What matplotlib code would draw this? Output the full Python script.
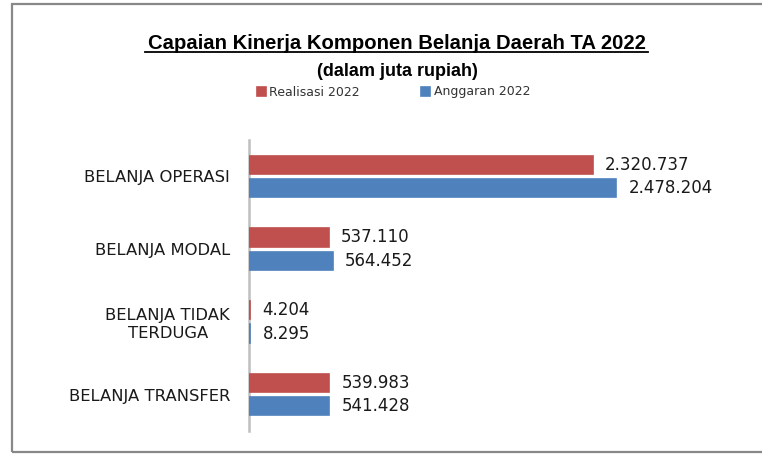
import numpy as np
import matplotlib
matplotlib.use("Agg")
import matplotlib.pyplot as plt
from matplotlib.patches import Rectangle
from matplotlib.lines import Line2D


# Data (juta rupiah)
categories = ["BELANJA OPERASI", "BELANJA MODAL", "BELANJA TIDAK\nTERDUGA", "BELANJA TRANSFER"]
realisasi = [2320737, 537110, 4204, 539983]
anggaran = [2478204, 564452, 8295, 541428]
series_names = ["Realisasi 2022", "Anggaran 2022"]

RED = "#C0504D"
BLUE = "#4F81BD"


def fmt(v):
    return f"{v:,}".replace(",", ".")


def main():
    fig = plt.figure(figsize=(7.62, 4.54), dpi=100)
    ax = fig.add_axes([249 / 762, 1 - 431 / 454, 491 / 762, 291 / 454])

    y = np.arange(len(categories))
    h = 0.25
    off = 0.16
    b1 = ax.barh(y - off, realisasi, height=h, color=RED, edgecolor=RED, lw=1.2,
                 label=series_names[0], zorder=3)
    b2 = ax.barh(y + off, anggaran, height=h, color=BLUE, edgecolor=BLUE, lw=1.2,
                 label=series_names[1], zorder=3)

    for bars, vals in ((b1, realisasi), (b2, anggaran)):
        for rect, v in zip(bars, vals):
            ax.annotate(fmt(v), (rect.get_width(), rect.get_y() + rect.get_height() / 2),
                        xytext=(9, 0), textcoords="offset points",
                        ha="left", va="center", fontsize=12, color="#1a1a1a")

    ax.set_xlim(0, 3.315e6)
    ax.set_ylim(len(categories) - 0.5, -0.5)
    ax.set_yticks(y)
    ax.set_yticklabels(categories, fontsize=11.8, color="#1a1a1a")
    for lbl in ax.get_yticklabels():
        lbl.set_multialignment("center")
    ax.tick_params(axis="y", length=0, pad=13.5)
    ax.set_xticks([])
    for s in ("top", "right", "bottom"):
        ax.spines[s].set_visible(False)
    ax.spines["left"].set_color("#BFBFBF")
    ax.spines["left"].set_linewidth(1.8)

    # title + underline
    fig.text(396.5 / 762, 1 - 49 / 454, "Capaian Kinerja Komponen Belanja Daerah TA 2022",
             ha="center", va="baseline", fontsize=14.6, fontweight="bold",
             family="Liberation Sans", color="black")
    fig.add_artist(Line2D([145 / 762, 648 / 762], [1 - 52 / 454, 1 - 52 / 454],
                          transform=fig.transFigure, color="black", lw=1.3))
    fig.text(397 / 762, 1 - 71 / 454, "(dalam juta rupiah)", ha="center", va="center",
             fontsize=13, fontweight="bold", family="Liberation Sans", color="black")

    fig.legend(handles=[b1, b2], labels=series_names, loc="center",
               bbox_to_anchor=(393.5 / 762, 1 - 92 / 454), bbox_transform=fig.transFigure,
               ncol=2, frameon=False, fontsize=9, handlelength=0.7, handleheight=0.7,
               handletextpad=0.3, columnspacing=4.9, labelcolor="#333333")

    # outer frame
    fig.add_artist(Rectangle((11.5 / 762, 1 - 452 / 454), 1.0, 448 / 454,
                             transform=fig.transFigure, fill=False,
                             edgecolor="#888888", lw=1.6))

    fig.savefig("out.png", dpi=100)


if __name__ == "__main__":
    main()
